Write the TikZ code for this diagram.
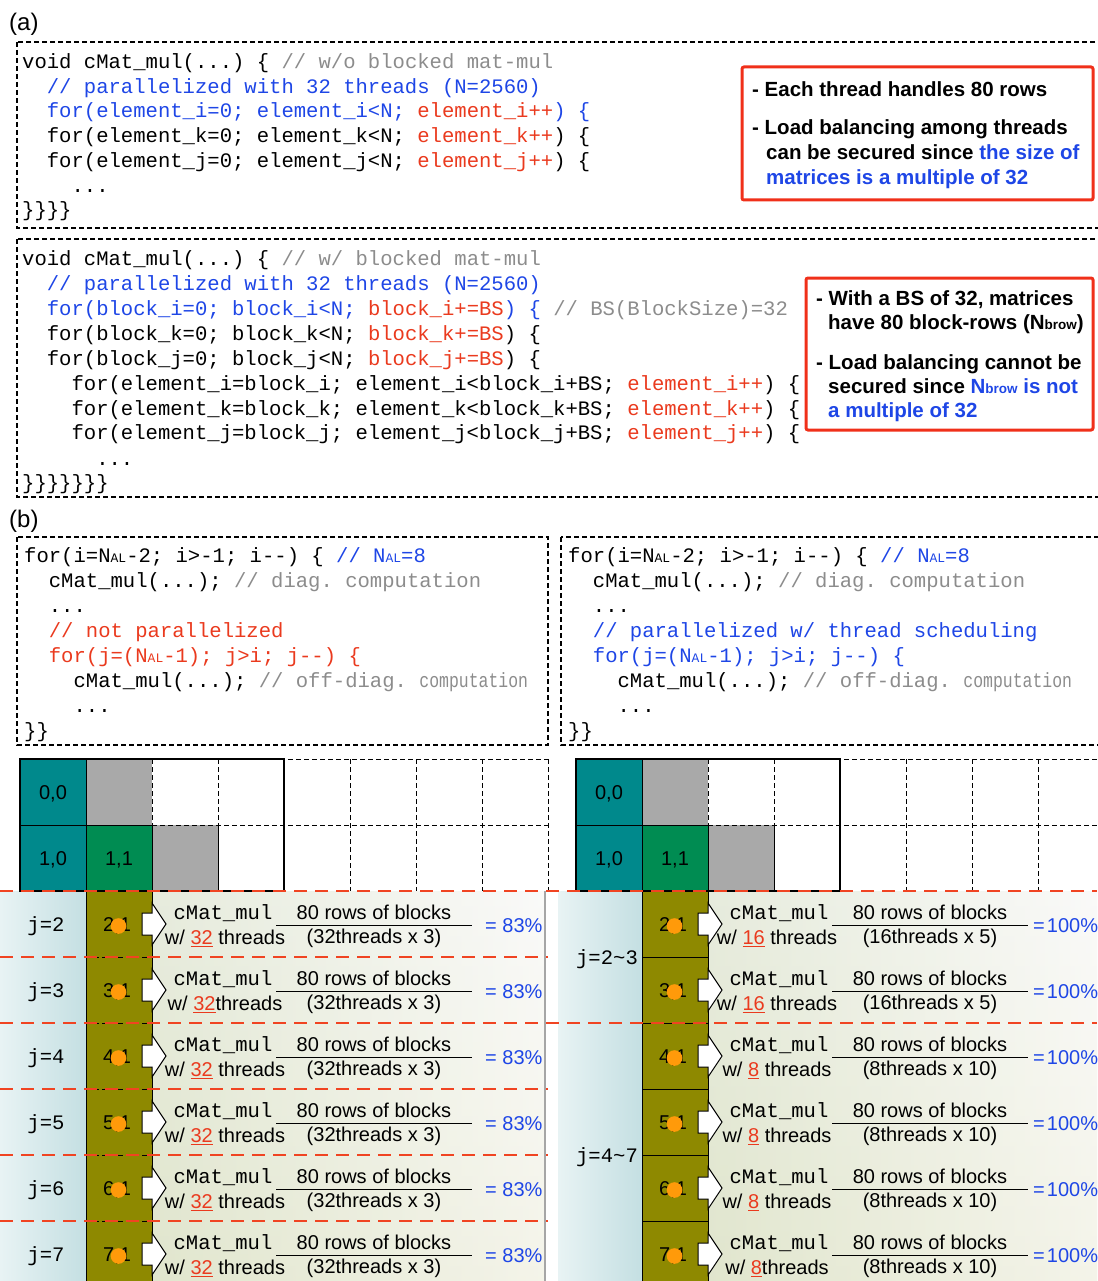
\documentclass[tikz,border=0pt]{standalone}
\usepackage{fontspec}
\setmainfont{Liberation Sans}
\newfontfamily\cmono{Liberation Mono}
\usepackage{graphicx}
\frenchspacing
\definecolor{cblue}{HTML}{1E46E6}
\definecolor{cred}{HTML}{EA3A1E}
\definecolor{cgray}{HTML}{8C8C8C}
\definecolor{boxred}{HTML}{F0301A}
\definecolor{rdashc}{HTML}{F04422}
\definecolor{teal0}{HTML}{00898C}
\definecolor{green1}{HTML}{008C52}
\definecolor{graycell}{HTML}{A9A9A9}
\definecolor{olivec}{HTML}{8E8900}
\definecolor{dotor}{HTML}{FF9A0A}
\definecolor{cyanL}{HTML}{E8F3F4}
\definecolor{cyanR}{HTML}{C4DFE2}
\definecolor{bgtop}{HTML}{F4F4F2}
\definecolor{bgbot}{HTML}{E7E7CF}
\definecolor{bgleft}{HTML}{DCE5CC}
\newcommand\nal{N{\fontsize{13}{13}\selectfont AL}}
\newcommand\nbrow{N{\fontsize{13.5}{13.5}\selectfont brow}}
\tikzset{
  codetxt/.style={font=\cmono\fontsize{20.58}{24}\selectfont, anchor=mid west, inner sep=0pt, yshift=-5pt},
  sanstxt/.style={font=\fontsize{20}{24}\selectfont, anchor=mid, inner sep=0pt, yshift=-5pt},
  boldtxt/.style={font=\bfseries\fontsize{20.5}{24}\selectfont, anchor=mid west, inner sep=0pt, yshift=-5pt},
  labtxt/.style={font=\fontsize{24}{28}\selectfont, anchor=mid west, inner sep=0pt, yshift=-5pt},
  dbox/.style={draw=black, line width=1.1pt, dash pattern=on 5pt off 3pt},
  rbox/.style={draw=boxred, line width=3pt, rounded corners=2pt},
  rdash/.style={draw=rdashc, line width=2.5pt, dash pattern=on 13pt off 8pt},
  gdash/.style={draw=black, line width=1pt, dash pattern=on 5pt off 3pt},
  thinl/.style={draw=black, line width=1pt},
  warrow/.style={draw=black, fill=white, line width=1pt, line join=miter},
}
\newcommand\pgrid[2]{%
\begin{scope}[xshift=#1pt]
\fill[teal0] (20,759) rectangle (86,891);
\fill[graycell] (86,759) rectangle (152,825);
\fill[green1] (86,825) rectangle (152,891);
\fill[graycell] (152,825) rectangle (218,891);
\draw[gdash] (152,759) -- (548,759);
\draw[gdash] (152,825) -- (548,825);
\draw[gdash] (152,759) -- (152,825);
\foreach \xx in {218,284,350,416,482,548} \draw[gdash] (\xx,759) -- (\xx,891);
\draw[thinl] (20,825) -- (152,825);
\draw[thinl] (86,759) -- (86,891);
\draw[thinl] (152,825) -- (152,891);
\draw[thinl] (218,825) -- (218,891);
\draw[line width=2.5pt] (20,759) rectangle (284,891);
\node[sanstxt] (g00#2) at (53,792) {0,0};
\node[sanstxt] (g10#2) at (53,858) {1,0};
\node[sanstxt] (g11#2) at (119,858) {1,1};
\end{scope}}
\newcommand\prow[9]{%
\begin{scope}[xshift=#1pt]
\node[sanstxt] (lab#3) at (117,#2) {#4};
\fill[dotor] (118.5,#2+2) circle[radius=7.8pt];
\draw[warrow] (142,#2-11) -- (152,#2-11) -- (152,#2-21) -- (166,#2) -- (152,#2+21) -- (152,#2+11) -- (142,#2+11) -- cycle;
\node[codetxt,anchor=mid] (cm#3) at (223,#2-12) {cMat\_mul};
\node[sanstxt] (w#3) at (#5,#2+13) {#6};
\node[sanstxt] (num#3) at (374,#2-12) {80 rows of blocks};
\node[sanstxt] (den#3) at (374,#2+12) {#7};
\draw[line width=1pt] (276,#2+1) -- (472,#2+1);
\node[sanstxt,text=cblue,anchor=mid west] (p#3) at (#8,#2+1) {#9};
\end{scope}}
\begin{document}
\begin{tikzpicture}[x=1pt,y=-1pt]
\useasboundingbox (0,0) rectangle (1097,1281);
% ---------- lower backgrounds ----------
\shade[left color=cyanL, right color=cyanR] (0,891) rectangle (86,1281);
\shade[top color=bgtop, bottom color=bgbot] (152,891) rectangle (545,1281);
\shade[left color=bgleft, right color=white, opacity=0.55] (152,891) rectangle (545,1281);
\shade[left color=cyanL, right color=cyanR] (558,891) rectangle (642,1281);
\shade[top color=bgtop, bottom color=bgbot] (708,891) rectangle (1097,1281);
\shade[left color=bgleft, right color=white, opacity=0.55] (708,891) rectangle (1097,1281);
\draw[line width=1.5pt, draw=black!35] (545,891) -- (545,1281);
% olive columns
\fill[olivec] (86,891) rectangle (152,1281);
\fill[olivec] (642,891) rectangle (708,1281);
\draw[thinl] (86,891) -- (86,1281) (152,891) -- (152,1281);
\draw[thinl] (642,891) -- (642,1281) (708,891) -- (708,1281);
\foreach \yy in {957,1023,1089,1155,1221} \draw[gdash] (86,\yy) -- (152,\yy);
\foreach \yy in {957,1023,1089,1155,1221} \draw[thinl] (642,\yy) -- (708,\yy);
% grids
\pgrid{0}{L}
\pgrid{556}{R}
% red dashed separators
\draw[rdash] (0,891) -- (1097,891);
\draw[rdash] (0,1023) -- (1097,1023);
\foreach \yy in {957,1089,1155,1221} \draw[rdash] (0,\yy) -- (548,\yy);
% left rows
\node[codetxt,anchor=mid] (jL2) at (46,924) {j=2};
\node[codetxt,anchor=mid] (jL3) at (46,990) {j=3};
\node[codetxt,anchor=mid] (jL4) at (46,1056) {j=4};
\node[codetxt,anchor=mid] (jL5) at (46,1122) {j=5};
\node[codetxt,anchor=mid] (jL6) at (46,1188) {j=6};
\node[codetxt,anchor=mid] (jL7) at (46,1254) {j=7};
\prow{0}{924}{L2}{2,1}{225}{w/ \textcolor{cred}{\underline{32}} threads}{(32threads x 3)}{485}{= 83\%}
\prow{0}{990}{L3}{3,1}{225}{w/ \textcolor{cred}{\underline{32}}threads}{(32threads x 3)}{485}{= 83\%}
\prow{0}{1056}{L4}{4,1}{225}{w/ \textcolor{cred}{\underline{32}} threads}{(32threads x 3)}{485}{= 83\%}
\prow{0}{1122}{L5}{5,1}{225}{w/ \textcolor{cred}{\underline{32}} threads}{(32threads x 3)}{485}{= 83\%}
\prow{0}{1188}{L6}{6,1}{225}{w/ \textcolor{cred}{\underline{32}} threads}{(32threads x 3)}{485}{= 83\%}
\prow{0}{1254}{L7}{7,1}{225}{w/ \textcolor{cred}{\underline{32}} threads}{(32threads x 3)}{485}{= 83\%}
% right rows
\node[codetxt,anchor=mid] (jR23) at (607,957) {j=2\textasciitilde 3};
\node[codetxt,anchor=mid] (jR47) at (607,1155) {j=4\textasciitilde 7};
\prow{556}{924}{R2}{2,1}{221}{w/ \textcolor{cred}{\underline{16}} threads}{(16threads x 5)}{477}{=\hspace{2pt}100\%}
\prow{556}{990}{R3}{3,1}{221}{w/ \textcolor{cred}{\underline{16}} threads}{(16threads x 5)}{477}{=\hspace{2pt}100\%}
\prow{556}{1056}{R4}{4,1}{221}{w/ \textcolor{cred}{\underline{8}} threads}{(8threads x 10)}{477}{=\hspace{2pt}100\%}
\prow{556}{1122}{R5}{5,1}{221}{w/ \textcolor{cred}{\underline{8}} threads}{(8threads x 10)}{477}{=\hspace{2pt}100\%}
\prow{556}{1188}{R6}{6,1}{221}{w/ \textcolor{cred}{\underline{8}} threads}{(8threads x 10)}{477}{=\hspace{2pt}100\%}
\prow{556}{1254}{R7}{7,1}{221}{w/ \textcolor{cred}{\underline{8}}threads}{(8threads x 10)}{477}{=\hspace{2pt}100\%}
% ---------- labels ----------
\node[labtxt] (la) at (9,23) {(a)};
\node[labtxt] (lb) at (9,520) {(b)};
% ---------- code box 1 ----------
\draw[dbox] (17,42) rectangle (1110,228);
\node[codetxt] (a1) at (22,61) {void cMat\_mul(...) \{ \textcolor{cgray}{// w/o blocked mat-mul}};
\node[codetxt,text=cblue] (a2) at (46.7,86) {// parallelized with 32 threads (N=2560)};
\node[codetxt,text=cblue] (a3) at (46.7,110) {for(element\_i=0; element\_i<N; \textcolor{cred}{element\_i++}) \{};
\node[codetxt] (a4) at (46.7,135) {for(element\_k=0; element\_k<N; \textcolor{cred}{element\_k++}) \{};
\node[codetxt] (a5) at (46.7,160) {for(element\_j=0; element\_j<N; \textcolor{cred}{element\_j++}) \{};
\node[codetxt] (a6) at (71.4,185) {...};
\node[codetxt] (a7) at (22,209) {\}\}\}\}};
\draw[rbox] (742,67) rectangle (1093,200);
\node[boldtxt] (r1) at (752,89) {- Each thread handles 80 rows};
\node[boldtxt] (r2) at (752,127) {- Load balancing among threads};
\node[boldtxt] (r3) at (766,152) {can be secured since \textcolor{cblue}{the size of}};
\node[boldtxt,text=cblue] (r4) at (766,177) {matrices is a multiple of 32};
% ---------- code box 2 ----------
\draw[dbox] (17,239) rectangle (1110,497);
\node[codetxt] (b1) at (22,258) {void cMat\_mul(...) \{ \textcolor{cgray}{// w/ blocked mat-mul}};
\node[codetxt,text=cblue] (b2) at (46.7,283) {// parallelized with 32 threads (N=2560)};
\node[codetxt,text=cblue] (b3) at (46.7,308) {for(block\_i=0; block\_i<N; \textcolor{cred}{block\_i+=BS}) \{ \textcolor{cgray}{// BS(BlockSize)=32}};
\node[codetxt] (b4) at (46.7,333) {for(block\_k=0; block\_k<N; \textcolor{cred}{block\_k+=BS}) \{};
\node[codetxt] (b5) at (46.7,358) {for(block\_j=0; block\_j<N; \textcolor{cred}{block\_j+=BS}) \{};
\node[codetxt] (b6) at (71.4,383) {for(element\_i=block\_i; element\_i<block\_i+BS; \textcolor{cred}{element\_i++}) \{};
\node[codetxt] (b7) at (71.4,408) {for(element\_k=block\_k; element\_k<block\_k+BS; \textcolor{cred}{element\_k++}) \{};
\node[codetxt] (b8) at (71.4,432) {for(element\_j=block\_j; element\_j<block\_j+BS; \textcolor{cred}{element\_j++}) \{};
\node[codetxt] (b9) at (96.1,458) {...};
\node[codetxt] (b10) at (22,482) {\}\}\}\}\}\}\}};
\draw[rbox] (806,278) rectangle (1093,430);
\node[boldtxt] (s1) at (816,298) {- With a BS of 32, matrices};
\node[boldtxt] (s2) at (828,322) {have 80 block-rows (\nbrow)};
\node[boldtxt] (s3) at (816,362) {- Load balancing cannot be};
\node[boldtxt] (s4) at (828,386) {secured since \textcolor{cblue}{\nbrow{} is not}};
\node[boldtxt,text=cblue] (s5) at (828,410) {a multiple of 32};
% ---------- (b) code boxes ----------
\draw[dbox] (17,537) rectangle (548,745);
\node[codetxt] (c1) at (24,555) {for(i=\nal-2; i>-1; i-{}-) \{ \textcolor{cblue}{// \nal=8}};
\node[codetxt] (c2) at (48.7,580) {cMat\_mul(...); \textcolor{cgray}{// diag. computation}};
\node[codetxt] (c3) at (48.7,605) {...};
\node[codetxt,text=cred] (c4) at (48.7,630) {// not parallelized};
\node[codetxt,text=cred] (c5) at (48.7,655) {for(j=(\nal-1); j>i; j-{}-) \{};
\node[codetxt] (c6) at (73.4,680) {cMat\_mul(...); \textcolor{cgray}{// off-diag. \scalebox{0.8}[1]{computation}}};
\node[codetxt] (c7) at (73.4,705) {...};
\node[codetxt] (c8) at (24,730) {\}\}};
\draw[dbox] (561,537) rectangle (1110,745);
\node[codetxt] (d1) at (568,555) {for(i=\nal-2; i>-1; i-{}-) \{ \textcolor{cblue}{// \nal=8}};
\node[codetxt] (d2) at (592.7,580) {cMat\_mul(...); \textcolor{cgray}{// diag. computation}};
\node[codetxt] (d3) at (592.7,605) {...};
\node[codetxt,text=cblue] (d4) at (592.7,630) {// parallelized w/ thread scheduling};
\node[codetxt,text=cblue] (d5) at (592.7,655) {for(j=(\nal-1); j>i; j-{}-) \{};
\node[codetxt] (d6) at (617.4,680) {cMat\_mul(...); \textcolor{cgray}{// off-diag. \scalebox{0.8}[1]{computation}}};
\node[codetxt] (d7) at (617.4,705) {...};
\node[codetxt] (d8) at (568,730) {\}\}};
\end{tikzpicture}
\end{document}
